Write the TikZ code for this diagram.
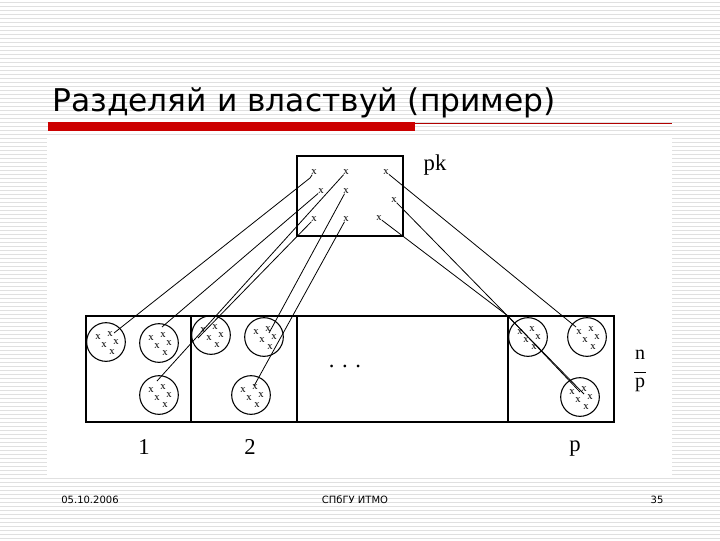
\documentclass[tikz,border=0pt]{standalone}
\usepackage{fontspec}
\setmainfont{Liberation Serif}
\newfontfamily\titlefont{DejaVu Sans}
\begin{document}
\begin{tikzpicture}[x=0.75pt,y=-0.75pt,
  ln/.style={line width=0.6pt},
  circ/.style={draw,circle,minimum size=29pt,inner sep=0pt,line width=0.8pt},
  xm/.style={font=\fontsize{8}{8}\selectfont,inner sep=0pt},
  lab/.style={font=\fontsize{17}{17}\selectfont,inner sep=0pt},
  foot/.style={font=\titlefont\fontsize{7.5}{8}\selectfont,inner sep=0pt}]
\useasboundingbox (0,0) rectangle (720,540);
\fill[white] (0,0) rectangle (720,540);
\foreach \i in {0,...,134} \draw[black!12,line width=0.5pt] (0,\i*4+2) -- (720,\i*4+2);
\fill[white] (47,135) rectangle (672,478);
% title
\node[anchor=base west,inner sep=0pt,font=\titlefont\fontsize{23.5}{24}\selectfont] (title) at (52,111) {Разделяй и властвуй (пример)};
\fill[red!80!black] (48,122) rectangle (415,131);
\draw[red!70!black,line width=0.6pt] (415,123.5) -- (672,123.5);
% footer
\node[foot] (date) at (90,500) {05.10.2006};
\node[foot] (org) at (355,500) {СПбГУ ИТМО};
\node[foot] (num) at (657,500) {35};
% boxes
\draw[line width=0.9pt] (297,156) rectangle (403,236);
\draw[line width=0.9pt] (86,316) rectangle (614,422);
\foreach \xx in {191,297,508} \draw[line width=0.9pt] (\xx,316) -- (\xx,422);
\node[lab] (pk) at (435,165) {pk};
\node[lab] (l1) at (144,447) {1};
\node[lab] (l2) at (250,447) {2};
\node[lab] (lp) at (575,449) {p};
\node[lab] (dots) at (345,366) {. . .};
\node[lab,align=center,font=\fontsize{15}{14}\selectfont] (np) at (640,371) {n\\[-4pt]\rule{9pt}{0.5pt}\\[-3pt]p};
% x marks in box
\node[xm] (a1) at (314,172) {x}; \node[xm] (a2) at (346,172) {x}; \node[xm] (a3) at (386,172) {x};
\node[xm] (b1x) at (321,191) {x}; \node[xm] (b2) at (346,191) {x}; \node[xm] (b3) at (394,200) {x};
\node[xm] (c1) at (314,219) {x}; \node[xm] (c2) at (346,219) {x}; \node[xm] (c3) at (379,218) {x};
% circles
\foreach \n/\cx/\cy in {C1/106/342,C2/159/343,C3/159/395,C4/211/335,C5/264/337,C6/251/395,C7/528/337,C8/587/337,C9/580/397}{
  \node[circ] (\n) at (\cx,\cy) {};
  \node[xm] at (\cx-8,\cy-5) {x}; \node[xm] at (\cx+4,\cy-8) {x};
  \node[xm] at (\cx-2,\cy+3) {x}; \node[xm] at (\cx+10,\cy) {x};
  \node[xm] at (\cx+6,\cy+10) {x};
}
% connectors
\draw[ln] (a1) -- (310,178) -- (114,333);
\draw[ln] (b1x) -- (162,327);
\draw[ln] (c1) -- (198,338);
\draw[ln] (a2) -- (157,381);
\draw[ln] (b2) -- (269,333);
\draw[ln] (c2) -- (254,386);
\draw[ln] (a3) -- (576,327);
\draw[ln] (b3) -- (584,394);
\draw[ln] (c3) -- (508,316) -- (580,392);
\end{tikzpicture}
\end{document}
